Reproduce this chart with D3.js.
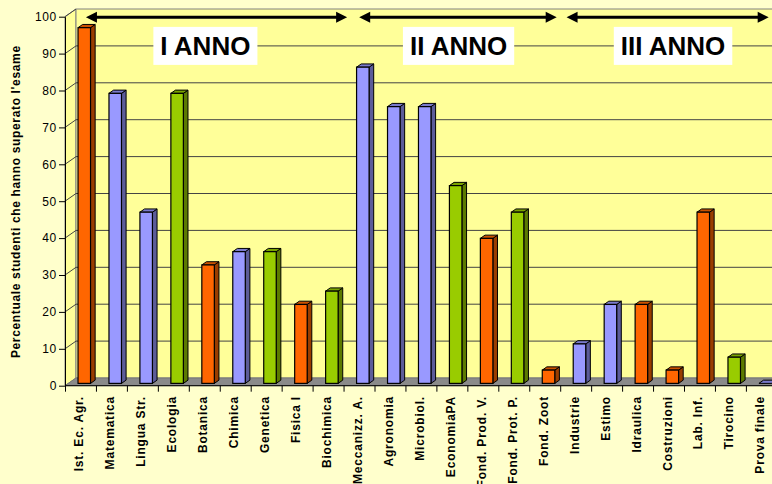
<!DOCTYPE html>
<html>
<head>
<meta charset="utf-8">
<script src="https://cdn.jsdelivr.net/npm/d3@7"></script>
<style>
  html, body { margin: 0; padding: 0; background: #FFFFCC; }
  svg { display: block; font-family: "Liberation Sans", Arial, sans-serif; }
</style>
</head>
<body>
<div id="chart"></div>
<script>
// exam pass rates per course, grouped by year
const categories = ["Ist. Ec. Agr.", "Matematica", "Lingua Str.", "Ecologia", "Botanica", "Chimica",
  "Genetica", "Fisica I", "Biochimica", "Meccanizz. A.", "Agronomia", "Microbiol.", "EconomiaPA",
  "Fond. Prod. V.", "Fond. Prot. P.", "Fond. Zoot", "Industrie", "Estimo", "Idraulica",
  "Costruzioni", "Lab. Inf.", "Tirocino", "Prova finale"];
const values = [96.4, 78.6, 46.4, 78.6, 32.1, 35.7, 35.7, 21.4, 25.0, 85.7, 75.0, 75.0, 53.6,
  39.3, 46.4, 3.6, 10.7, 21.4, 21.4, 3.6, 46.4, 7.1, 0];
const groups = ["o", "b", "b", "g", "o", "b", "g", "o", "g", "b", "b", "b", "g",
  "o", "g", "o", "b", "b", "o", "o", "o", "g", "b"];
const yTicks = [0, 10, 20, 30, 40, 50, 60, 70, 80, 90, 100];
const years = ["I ANNO", "II ANNO", "III ANNO"];
const yearSpans = [[0.66, 9.1], [9.49, 15.87], [16.19, 22.72]];   // in category units
const yearLabelAt = [4.52, 12.7, 19.63];
const yTitle = "Percentuale studenti che hanno superato l'esame";

const W = 772, H = 484;
const DX = 11, DY = -7.7;          // 3d depth offset
const d0 = 0.3, d1 = 0.72;         // bar depth range

const colors = {
  o: { front: "#FF6600", side: "#993D00", top: "#CC5200" },
  b: { front: "#9999FF", side: "#5C5C99", top: "#7A7ACC" },
  g: { front: "#99CC00", side: "#5C7A00", top: "#7AA300" }
};

const svg = d3.select("#chart").append("svg")
  .attr("width", W).attr("height", H);

svg.append("rect").attr("width", W).attr("height", H).attr("fill", "#FFFFCC");

const idx = d3.scaleLinear().domain([0, categories.length]).range([65.5, 65.5 + 23 * 30.95]);
const x = d3.scaleBand().domain(categories)
  .range(idx.range()).paddingInner(0.596).paddingOuter(0.298);
const y = d3.scaleLinear().domain([0, 100]).range([385.7, 16.7]);

const x0 = 65, x1 = idx(categories.length);
const yb = y(0), yt = y(100);

// walls
svg.append("polygon")
  .attr("points", [[x0, yt], [x0 + DX, yt + DY], [x0 + DX, yb + DY], [x0, yb]].join(" "))
  .attr("fill", "#FFFF99").attr("stroke", "#808080");
svg.append("polygon")
  .attr("points", [[x0 + DX, yt + DY], [x1 + DX + 20, yt + DY], [x1 + DX + 20, yb + DY], [x0 + DX, yb + DY]].join(" "))
  .attr("fill", "#FFFF99").attr("stroke", "#808080");

// gridlines
yTicks.slice(1).forEach(t => {
  svg.append("line")
    .attr("x1", x0).attr("y1", y(t)).attr("x2", x0 + DX).attr("y2", y(t) + DY)
    .attr("stroke", "#444");
  if (t < 100) {
    svg.append("line")
      .attr("x1", x0 + DX).attr("y1", y(t) + DY).attr("x2", x1 + DX + 20).attr("y2", y(t) + DY)
      .attr("stroke", "#444");
  }
});

// floor
svg.append("polygon")
  .attr("points", [[x0, yb], [x1 + 20, yb], [x1 + DX + 20, yb + DY], [x0 + DX, yb + DY]].join(" "))
  .attr("fill", "#8A8A8A").attr("stroke", "#777");

// y axis
const yAxis = svg.append("g")
  .attr("transform", `translate(${x0},0)`)
  .call(d3.axisLeft(y).tickValues(yTicks).tickSize(6).tickSizeOuter(0).tickPadding(2));
yAxis.select(".domain").attr("stroke", "#000");
yAxis.selectAll("text")
  .style("font-size", "12px").style("letter-spacing", "0.7px")
  .style("font-family", "'Liberation Sans', Arial, sans-serif").attr("fill", "#000");

svg.append("text")
  .attr("transform", `translate(19.5,201.7) rotate(-90)`)
  .attr("text-anchor", "middle")
  .style("font-size", "12px").style("font-weight", "bold").style("letter-spacing", "0.65px")
  .text(yTitle);

// x axis line and boundary ticks
svg.append("line")
  .attr("x1", x0).attr("y1", yb).attr("x2", x1 + 20).attr("y2", yb)
  .attr("stroke", "#000");
svg.selectAll(".xtick")
  .data(d3.range(categories.length + 1))
  .join("line")
  .attr("class", "xtick")
  .attr("x1", i => idx(i)).attr("x2", i => idx(i))
  .attr("y1", yb).attr("y2", yb + 6)
  .attr("stroke", "#000");

svg.selectAll(".xlab")
  .data(categories)
  .join("text")
  .attr("class", "xlab")
  .attr("transform", d => `translate(${x(d) + x.bandwidth() / 2 + 2.5},396) rotate(-90)`)
  .attr("text-anchor", "end")
  .style("font-size", "12px").style("font-weight", "bold").style("letter-spacing", "0.8px")
  .text(d => d);

// bars
const bars = svg.selectAll(".bar")
  .data(categories.map((c, i) => ({ c, v: values[i], g: groups[i] })))
  .join("g")
  .attr("class", "bar");

const fdx = DX * d0, fdy = DY * d0;
const sdx = DX * (d1 - d0), sdy = DY * (d1 - d0);

bars.each(function (d) {
  const g = d3.select(this);
  const col = colors[d.g];
  const bx = x(d.c) + fdx, bw = x.bandwidth();
  const top = y(d.v) + fdy, bot = y(0) + fdy;
  g.append("polygon")
    .attr("points", [[bx + bw, top], [bx + bw + sdx, top + sdy], [bx + bw + sdx, bot + sdy], [bx + bw, bot]].join(" "))
    .attr("fill", col.side).attr("stroke", "#000").attr("stroke-width", 1).attr("stroke-linejoin", "round");
  g.append("polygon")
    .attr("points", [[bx, top], [bx + sdx, top + sdy], [bx + bw + sdx, top + sdy], [bx + bw, top]].join(" "))
    .attr("fill", col.top).attr("stroke", "#000").attr("stroke-width", 1).attr("stroke-linejoin", "round");
  g.append("rect")
    .attr("x", bx).attr("y", top).attr("width", bw).attr("height", bot - top)
    .attr("fill", col.front).attr("stroke", "#000").attr("stroke-width", 1.2);
});

// year arrows
const ay = y(100) + 0.6;
yearSpans.forEach(([a, b]) => {
  const xa = idx(a), xb = idx(b);
  svg.append("line")
    .attr("x1", xa + 8).attr("x2", xb - 8).attr("y1", ay).attr("y2", ay)
    .attr("stroke", "#000").attr("stroke-width", 3);
  svg.append("polygon").attr("points", [[xa, ay], [xa + 11, ay - 5.5], [xa + 11, ay + 5.5]].join(" ")).attr("fill", "#000");
  svg.append("polygon").attr("points", [[xb, ay], [xb - 11, ay - 5.5], [xb - 11, ay + 5.5]].join(" ")).attr("fill", "#000");
});

// year labels
const ly = y(90) + DY;
years.forEach((t, i) => {
  const g = svg.append("g");
  const txt = g.append("text")
    .attr("x", idx(yearLabelAt[i])).attr("y", ly + 9.5)
    .attr("text-anchor", "middle")
    .style("font-size", "26px").style("font-weight", "bold")
    .text(t);
  const bb = txt.node().getBBox();
  g.insert("rect", "text")
    .attr("x", bb.x - 7).attr("y", ly - 19).attr("width", bb.width + 14).attr("height", 38)
    .attr("fill", "#fff");
});
</script>
</body>
</html>
